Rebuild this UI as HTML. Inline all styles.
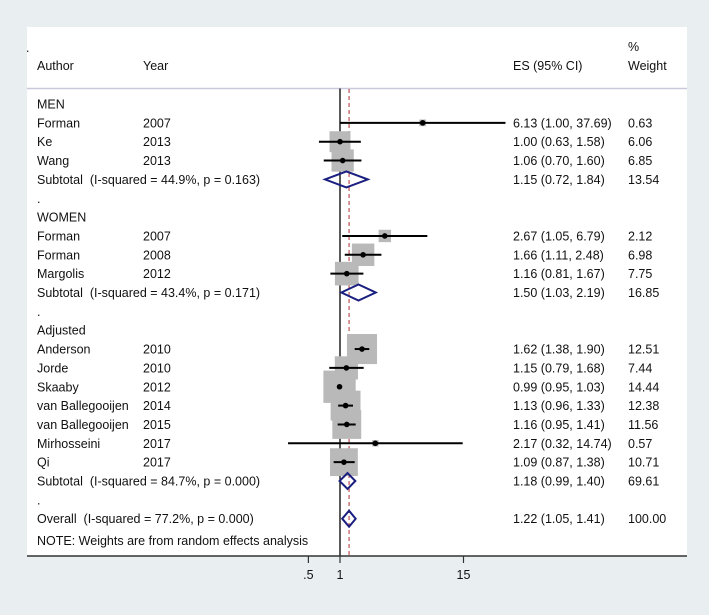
<!DOCTYPE html>
<html><head><meta charset="utf-8"><style>
html,body{margin:0;padding:0;width:709px;height:615px;overflow:hidden;background:#e9eef0;}
svg{display:block;font-family:"Liberation Sans",Arial,sans-serif;}
text{white-space:pre;}
</style></head><body>
<svg id="chart" width="709" height="615" viewBox="0 0 709 615" xmlns="http://www.w3.org/2000/svg">
<rect x="0" y="0" width="709" height="615" fill="#e9eef0"/>
<rect x="27" y="27" width="660" height="529" fill="#ffffff"/>
<g id="header" font-size="12.5" fill="#111">
<text x="26" y="52">.</text>
<text x="37" y="70">Author</text>
<text x="143" y="70">Year</text>
<text x="513" y="70">ES (95% CI)</text>
<text x="628" y="51">%</text>
<text x="628" y="70">Weight</text>
</g>
<line x1="27" y1="88.5" x2="687" y2="88.5" stroke="#c9c9dc" stroke-width="1.5"/>
<g id="marks"></g>
<g id="labels" font-size="12.5" fill="#111"></g>
<g id="axis"></g>
</svg>
<script>
const rowLabels = ["MEN","Forman","Ke","Wang","Subtotal  (I-squared = 44.9%, p = 0.163)",".","WOMEN","Forman","Forman","Margolis","Subtotal  (I-squared = 43.4%, p = 0.171)",".","Adjusted","Anderson","Jorde","Skaaby","van Ballegooijen","van Ballegooijen","Mirhosseini","Qi","Subtotal  (I-squared = 84.7%, p = 0.000)",".","Overall  (I-squared = 77.2%, p = 0.000)"];
const rowYears = ["","2007","2013","2013","","","","2007","2008","2012","","","","2010","2010","2012","2014","2015","2017","2017","","",""];
const rowType = ["h","s","s","s","d","h","h","s","s","s","d","h","h","s","s","s","s","s","s","s","d","h","d"];
const es = [null,6.13,1.00,1.06,1.15,null,null,2.67,1.66,1.16,1.50,null,null,1.62,1.15,0.99,1.13,1.16,2.17,1.09,1.18,null,1.22];
const lo = [null,1.00,0.63,0.70,0.72,null,null,1.05,1.11,0.81,1.03,null,null,1.38,0.79,0.95,0.96,0.95,0.32,0.87,0.99,null,1.05];
const hi = [null,37.69,1.58,1.60,1.84,null,null,6.79,2.48,1.67,2.19,null,null,1.90,1.68,1.03,1.33,1.41,14.74,1.38,1.40,null,1.41];
const weights = [null,0.63,6.06,6.85,13.54,null,null,2.12,6.98,7.75,16.85,null,null,12.51,7.44,14.44,12.38,11.56,0.57,10.71,69.61,null,100.00];
const tickValues = [0.5,1,15];
const tickLabels = [".5","1","15"];
const overallES = 1.22;

const NS="http://www.w3.org/2000/svg";
const xS = v => 340 + 45.6*Math.log(v);
const yS = i => 104 + 18.85*i;
const marks=document.getElementById('marks'), labels=document.getElementById('labels'), axis=document.getElementById('axis');
function mk(tag,attrs,parent){const e=document.createElementNS(NS,tag);for(const k in attrs)e.setAttribute(k,attrs[k]);parent.appendChild(e);return e;}
const fmt=v=>v.toFixed(2);

let l=mk('line',{x1:xS(1),y1:88.5,x2:xS(1),y2:556,stroke:'#000','stroke-width':1.3},marks);


l=mk('line',{x1:xS(overallES),y1:89,x2:xS(overallES),y2:556,stroke:'#b03030','stroke-width':1,'stroke-dasharray':'4,3'},marks);



for(let i=0;i<rowLabels.length;i++){
  const y=yS(i);
  let t=mk('text',{x:37,y:y+4.5},labels); t.textContent=rowLabels[i];
  
  
  if(rowYears[i]){t=mk('text',{x:143,y:y+4.5},labels);t.textContent=rowYears[i];
    
    }
  if(es[i]!==null){
    t=mk('text',{x:513,y:y+4.5},labels);t.textContent=fmt(es[i])+" ("+fmt(lo[i])+", "+fmt(hi[i])+")";
    
    
    t=mk('text',{x:628,y:y+4.5},labels);t.textContent=fmt(weights[i]);
    
    
    if(rowType[i]==='s'){
      const s=8.5*Math.sqrt(weights[i]);
      const b=mk('rect',{x:xS(es[i])-s/2,y:y-s/2,width:s,height:s,fill:'#b9b9b9'},marks);
      
      
    }
  }
}
for(let i=0;i<rowLabels.length;i++){
  if(es[i]===null)continue;
  const y=yS(i);
  if(rowType[i]==='s'){
    const c=mk('line',{x1:xS(lo[i]),y1:y,x2:xS(hi[i]),y2:y,stroke:'#000','stroke-width':2},marks);
    
    
    const p=mk('circle',{cx:xS(es[i]),cy:y,r:2.8,fill:'#000'},marks);
    
    
  } else {
    const d=mk('polygon',{points:`${xS(lo[i])},${y} ${xS(es[i])},${y-8} ${xS(hi[i])},${y} ${xS(es[i])},${y+8}`,fill:'none',stroke:'#1a1f80','stroke-width':2},marks);
    
    
  }
}
let n=mk('text',{x:37,y:545},labels);n.textContent="NOTE: Weights are from random effects analysis";



l=mk('line',{x1:27,y1:556,x2:687,y2:556,stroke:'#333','stroke-width':1.5},axis);


tickValues.forEach((v,k)=>{
  const tk=mk('line',{x1:xS(v),y1:556,x2:xS(v),y2:563,stroke:'#333','stroke-width':1.2},axis);
  
  
  const tl=mk('text',{x:xS(v),y:579,'text-anchor':'middle','font-size':12.5,fill:'#111'},axis);
  tl.textContent=tickLabels[k];
  
  
});
</script>
</body></html>
